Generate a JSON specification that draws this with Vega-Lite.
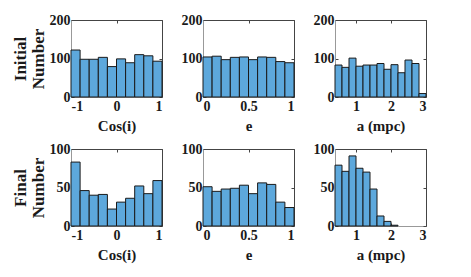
{
  "$schema": "https://vega.github.io/schema/vega-lite/v6.json",
  "background": "white",
  "padding": {"left": 10, "top": 12, "right": 5, "bottom": 5},
  "bounds": "flush",
  "columns": 3,
  "spacing": {"row": 52, "column": 41},
  "config": {
    "font": "Liberation Serif",
    "view": {"stroke": "#444", "strokeWidth": 1},
    "axis": {
      "grid": false,
      "labelFont": "Liberation Serif",
      "labelFontWeight": "bold",
      "labelFontSize": 14,
      "labelColor": "#1a1a1a",
      "titleFont": "Liberation Serif",
      "titleFontWeight": "bold",
      "titleFontSize": 15,
      "titleColor": "#1a1a1a",
      "domainColor": "#999999",
      "tickColor": "#444444",
      "tickSize": -3,
      "labelPadding": 4,
      "titlePadding": 3
    },
    "axisBottom": {"labelPadding": 5, "titlePadding": 5},
    "axisLeft": {"titleFontSize": 17, "titleLineHeight": 18, "titlePadding": 2}
  },
  "datasets": {
    "ci_init": [
      {"lo": -1.0, "hi": -0.8, "count": 122},
      {"lo": -0.8, "hi": -0.6, "count": 98},
      {"lo": -0.6, "hi": -0.4, "count": 98},
      {"lo": -0.4, "hi": -0.2, "count": 103},
      {"lo": -0.2, "hi": 0.0, "count": 79},
      {"lo": 0.0, "hi": 0.2, "count": 99},
      {"lo": 0.2, "hi": 0.4, "count": 89},
      {"lo": 0.4, "hi": 0.6, "count": 110},
      {"lo": 0.6, "hi": 0.8, "count": 107},
      {"lo": 0.8, "hi": 1.0, "count": 93}
    ],
    "e_init": [
      {"lo": 0.0, "hi": 0.1, "count": 104},
      {"lo": 0.1, "hi": 0.2, "count": 106},
      {"lo": 0.2, "hi": 0.3, "count": 97},
      {"lo": 0.3, "hi": 0.4, "count": 103},
      {"lo": 0.4, "hi": 0.5, "count": 104},
      {"lo": 0.5, "hi": 0.6, "count": 97},
      {"lo": 0.6, "hi": 0.7, "count": 104},
      {"lo": 0.7, "hi": 0.8, "count": 103},
      {"lo": 0.8, "hi": 0.9, "count": 92},
      {"lo": 0.9, "hi": 1.0, "count": 89}
    ],
    "a_init": [
      {"lo": 0.4, "hi": 0.6, "count": 83},
      {"lo": 0.6, "hi": 0.8, "count": 77},
      {"lo": 0.8, "hi": 1.0, "count": 101},
      {"lo": 1.0, "hi": 1.2, "count": 80},
      {"lo": 1.2, "hi": 1.4, "count": 83},
      {"lo": 1.4, "hi": 1.6, "count": 83},
      {"lo": 1.6, "hi": 1.8, "count": 87},
      {"lo": 1.8, "hi": 2.0, "count": 72},
      {"lo": 2.0, "hi": 2.2, "count": 84},
      {"lo": 2.2, "hi": 2.4, "count": 63},
      {"lo": 2.4, "hi": 2.6, "count": 96},
      {"lo": 2.6, "hi": 2.8, "count": 87},
      {"lo": 2.8, "hi": 3.0, "count": 9}
    ],
    "ci_final": [
      {"lo": -1.0, "hi": -0.8, "count": 83},
      {"lo": -0.8, "hi": -0.6, "count": 46},
      {"lo": -0.6, "hi": -0.4, "count": 40},
      {"lo": -0.4, "hi": -0.2, "count": 41},
      {"lo": -0.2, "hi": 0.0, "count": 22},
      {"lo": 0.0, "hi": 0.2, "count": 31},
      {"lo": 0.2, "hi": 0.4, "count": 36},
      {"lo": 0.4, "hi": 0.6, "count": 52},
      {"lo": 0.6, "hi": 0.8, "count": 42},
      {"lo": 0.8, "hi": 1.0, "count": 59}
    ],
    "e_final": [
      {"lo": 0.0, "hi": 0.1, "count": 51},
      {"lo": 0.1, "hi": 0.2, "count": 45},
      {"lo": 0.2, "hi": 0.3, "count": 48},
      {"lo": 0.3, "hi": 0.4, "count": 49},
      {"lo": 0.4, "hi": 0.5, "count": 53},
      {"lo": 0.5, "hi": 0.6, "count": 42},
      {"lo": 0.6, "hi": 0.7, "count": 56},
      {"lo": 0.7, "hi": 0.8, "count": 54},
      {"lo": 0.8, "hi": 0.9, "count": 31},
      {"lo": 0.9, "hi": 1.0, "count": 24}
    ],
    "a_final": [
      {"lo": 0.4, "hi": 0.6, "count": 79},
      {"lo": 0.6, "hi": 0.8, "count": 71},
      {"lo": 0.8, "hi": 1.0, "count": 91},
      {"lo": 1.0, "hi": 1.2, "count": 75},
      {"lo": 1.2, "hi": 1.4, "count": 70},
      {"lo": 1.4, "hi": 1.6, "count": 48},
      {"lo": 1.6, "hi": 1.8, "count": 13},
      {"lo": 1.8, "hi": 2.0, "count": 6},
      {"lo": 2.0, "hi": 2.2, "count": 1}
    ]
  },
  "concat": [
    {
      "width": 91, "height": 77,
      "data": {"name": "ci_init"},
      "layer": [
        {
          "mark": {"type": "bar", "fill": "#5DA8DC", "stroke": "#1a1a1a", "strokeWidth": 1},
          "encoding": {
            "x": {"field": "lo", "type": "quantitative", "scale": {"domain": [-1, 1], "nice": false, "zero": false},
                  "axis": {"values": [-1, 0, 1], "title": "Cos(i)", "labelExpr": "datum.value < 0 ? '-' + format(-datum.value, '~g') : format(datum.value, '~g')"}},
            "x2": {"field": "hi"},
            "y": {"field": "count", "type": "quantitative", "scale": {"domain": [0, 200], "nice": false},
                  "axis": {"values": [0, 100, 200], "title": ["Initial", "Number"]}},
            "y2": {"datum": 0}
          }
        },
        {
          "mark": {"type": "bar", "opacity": 0},
          "encoding": {
            "x": {"field": "lo", "type": "quantitative", "axis": {"orient": "top", "values": [-1, 0, 1], "labels": false, "domain": false, "title": null}},
            "x2": {"field": "hi"},
            "y": {"field": "count", "type": "quantitative", "axis": {"orient": "right", "values": [0, 100, 200], "labels": false, "domain": false, "title": null}},
            "y2": {"datum": 0}
          }
        }
      ],
      "resolve": {"axis": {"x": "independent", "y": "independent"}}
    },
    {
      "width": 91, "height": 77,
      "data": {"name": "e_init"},
      "layer": [
        {
          "mark": {"type": "bar", "fill": "#5DA8DC", "stroke": "#1a1a1a", "strokeWidth": 1},
          "encoding": {
            "x": {"field": "lo", "type": "quantitative", "scale": {"domain": [0, 1], "nice": false},
                  "axis": {"values": [0, 0.5, 1], "title": "e", "format": "~g"}},
            "x2": {"field": "hi"},
            "y": {"field": "count", "type": "quantitative", "scale": {"domain": [0, 200], "nice": false},
                  "axis": {"values": [0, 100, 200], "title": null}},
            "y2": {"datum": 0}
          }
        },
        {
          "mark": {"type": "bar", "opacity": 0},
          "encoding": {
            "x": {"field": "lo", "type": "quantitative", "axis": {"orient": "top", "values": [0, 0.5, 1], "labels": false, "domain": false, "title": null}},
            "x2": {"field": "hi"},
            "y": {"field": "count", "type": "quantitative", "axis": {"orient": "right", "values": [0, 100, 200], "labels": false, "domain": false, "title": null}},
            "y2": {"datum": 0}
          }
        }
      ],
      "resolve": {"axis": {"x": "independent", "y": "independent"}}
    },
    {
      "width": 91, "height": 77,
      "data": {"name": "a_init"},
      "layer": [
        {
          "mark": {"type": "bar", "fill": "#5DA8DC", "stroke": "#1a1a1a", "strokeWidth": 1},
          "encoding": {
            "x": {"field": "lo", "type": "quantitative", "scale": {"domain": [0.4, 3], "nice": false, "zero": false},
                  "axis": {"values": [1, 2, 3], "title": "a (mpc)", "format": "~g"}},
            "x2": {"field": "hi"},
            "y": {"field": "count", "type": "quantitative", "scale": {"domain": [0, 200], "nice": false},
                  "axis": {"values": [0, 100, 200], "title": null}},
            "y2": {"datum": 0}
          }
        },
        {
          "mark": {"type": "bar", "opacity": 0},
          "encoding": {
            "x": {"field": "lo", "type": "quantitative", "axis": {"orient": "top", "values": [1, 2, 3], "labels": false, "domain": false, "title": null}},
            "x2": {"field": "hi"},
            "y": {"field": "count", "type": "quantitative", "axis": {"orient": "right", "values": [0, 100, 200], "labels": false, "domain": false, "title": null}},
            "y2": {"datum": 0}
          }
        }
      ],
      "resolve": {"axis": {"x": "independent", "y": "independent"}}
    },
    {
      "width": 91, "height": 77,
      "data": {"name": "ci_final"},
      "layer": [
        {
          "mark": {"type": "bar", "fill": "#5DA8DC", "stroke": "#1a1a1a", "strokeWidth": 1},
          "encoding": {
            "x": {"field": "lo", "type": "quantitative", "scale": {"domain": [-1, 1], "nice": false, "zero": false},
                  "axis": {"values": [-1, 0, 1], "title": "Cos(i)", "labelExpr": "datum.value < 0 ? '-' + format(-datum.value, '~g') : format(datum.value, '~g')"}},
            "x2": {"field": "hi"},
            "y": {"field": "count", "type": "quantitative", "scale": {"domain": [0, 100], "nice": false},
                  "axis": {"values": [0, 50, 100], "title": ["Final", "Number"]}},
            "y2": {"datum": 0}
          }
        },
        {
          "mark": {"type": "bar", "opacity": 0},
          "encoding": {
            "x": {"field": "lo", "type": "quantitative", "axis": {"orient": "top", "values": [-1, 0, 1], "labels": false, "domain": false, "title": null}},
            "x2": {"field": "hi"},
            "y": {"field": "count", "type": "quantitative", "axis": {"orient": "right", "values": [0, 50, 100], "labels": false, "domain": false, "title": null}},
            "y2": {"datum": 0}
          }
        }
      ],
      "resolve": {"axis": {"x": "independent", "y": "independent"}}
    },
    {
      "width": 91, "height": 77,
      "data": {"name": "e_final"},
      "layer": [
        {
          "mark": {"type": "bar", "fill": "#5DA8DC", "stroke": "#1a1a1a", "strokeWidth": 1},
          "encoding": {
            "x": {"field": "lo", "type": "quantitative", "scale": {"domain": [0, 1], "nice": false},
                  "axis": {"values": [0, 0.5, 1], "title": "e", "format": "~g"}},
            "x2": {"field": "hi"},
            "y": {"field": "count", "type": "quantitative", "scale": {"domain": [0, 100], "nice": false},
                  "axis": {"values": [0, 50, 100], "title": null}},
            "y2": {"datum": 0}
          }
        },
        {
          "mark": {"type": "bar", "opacity": 0},
          "encoding": {
            "x": {"field": "lo", "type": "quantitative", "axis": {"orient": "top", "values": [0, 0.5, 1], "labels": false, "domain": false, "title": null}},
            "x2": {"field": "hi"},
            "y": {"field": "count", "type": "quantitative", "axis": {"orient": "right", "values": [0, 50, 100], "labels": false, "domain": false, "title": null}},
            "y2": {"datum": 0}
          }
        }
      ],
      "resolve": {"axis": {"x": "independent", "y": "independent"}}
    },
    {
      "width": 91, "height": 77,
      "data": {"name": "a_final"},
      "layer": [
        {
          "mark": {"type": "bar", "fill": "#5DA8DC", "stroke": "#1a1a1a", "strokeWidth": 1},
          "encoding": {
            "x": {"field": "lo", "type": "quantitative", "scale": {"domain": [0.4, 3], "nice": false, "zero": false},
                  "axis": {"values": [1, 2, 3], "title": "a (mpc)", "format": "~g"}},
            "x2": {"field": "hi"},
            "y": {"field": "count", "type": "quantitative", "scale": {"domain": [0, 100], "nice": false},
                  "axis": {"values": [0, 50, 100], "title": null}},
            "y2": {"datum": 0}
          }
        },
        {
          "mark": {"type": "bar", "opacity": 0},
          "encoding": {
            "x": {"field": "lo", "type": "quantitative", "axis": {"orient": "top", "values": [1, 2, 3], "labels": false, "domain": false, "title": null}},
            "x2": {"field": "hi"},
            "y": {"field": "count", "type": "quantitative", "axis": {"orient": "right", "values": [0, 50, 100], "labels": false, "domain": false, "title": null}},
            "y2": {"datum": 0}
          }
        }
      ],
      "resolve": {"axis": {"x": "independent", "y": "independent"}}
    }
  ]
}
